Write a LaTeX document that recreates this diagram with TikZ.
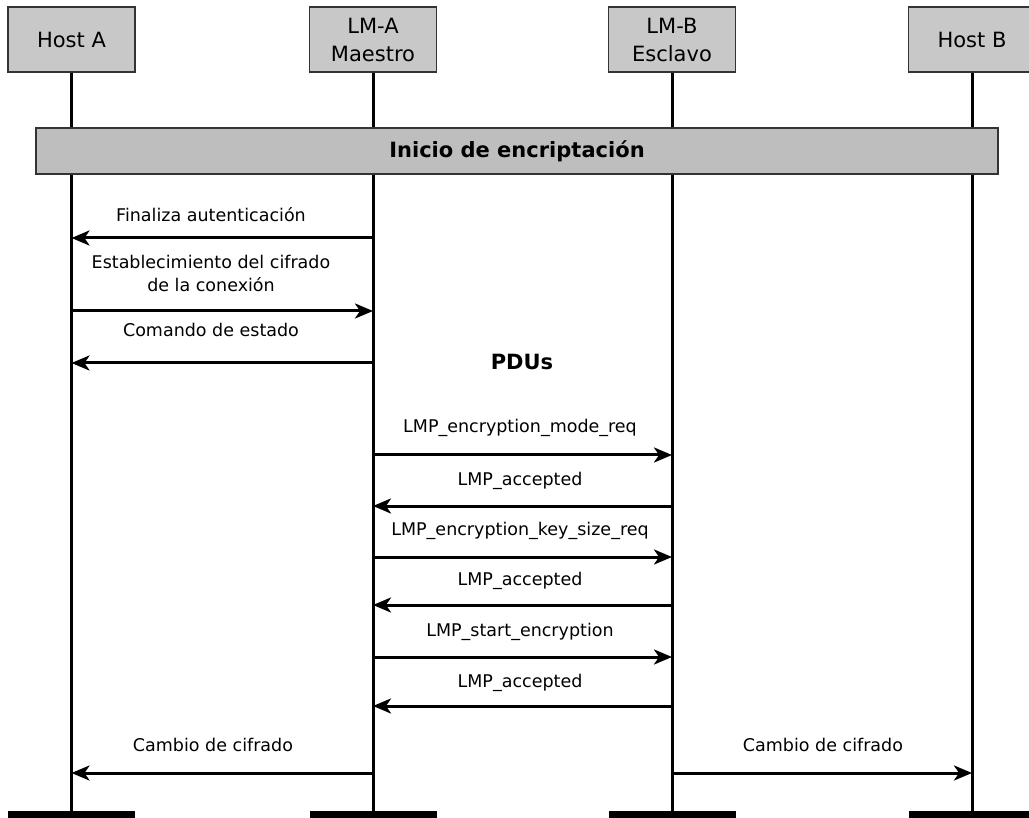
\documentclass[tikz,border=0pt]{standalone}
\usepackage{fontspec}
\setmainfont{DejaVu Sans}
\usetikzlibrary{arrows.meta}
\definecolor{boxgray}{HTML}{C8C8C8}
\definecolor{bargray}{HTML}{BEBEBE}
\definecolor{edge}{HTML}{333333}
\begin{document}
\begin{tikzpicture}[x=1pt,y=-1pt,
  actor/.style={draw=edge,line width=1.5pt,fill=boxgray,minimum width=127pt,
    minimum height=65pt,inner sep=0pt,align=center,
    font=\fontsize{21}{28}\selectfont},
  life/.style={line width=3pt},
  msg/.style={line width=3pt,-{Stealth[length=18pt,width=15pt,inset=5pt]}},
  lbl/.style={font=\fontsize{17.5}{23}\selectfont,align=center,inner sep=0pt},
  foot/.style={fill=black,minimum width=127pt,minimum height=14pt,inner sep=0pt,anchor=north}]
\useasboundingbox (0,0) rectangle (1029,818);

% participants
\node[actor] (hA) at (71.5,39.5) {Host A};
\node[actor] (lA) at (373,39.5) {LM-A\\Maestro};
\node[actor] (lB) at (672,39.5) {LM-B\\Esclavo};
\node[actor] (hB) at (972,39.5) {Host B};

% feet of the lifelines
\node[foot] (fA) at (71.5,811) {};
\node[foot] (fLA) at (373,811) {};
\node[foot] (fLB) at (672,811) {};
\node[foot] (fB) at (972,811) {};

% lifelines
\draw[life] (hA.south) -- (fA.north);
\draw[life] (lA.south) -- (fLA.north);
\draw[life] (lB.south) -- (fLB.north);
\draw[life] (hB.south) -- (fB.north);

% phase bar
\node[draw=edge,line width=1.5pt,fill=bargray,minimum width=962pt,minimum height=46pt,
  inner sep=0pt,font=\bfseries\fontsize{21}{25}\selectfont] (bar) at (517,151)
  {Inicio de encriptación};

% host A <-> LM-A
\node[lbl] (t1) at (211,215) {Finaliza autenticación};
\draw[msg] (lA |- 0,238) -- (hA |- 0,238);
\node[lbl] (t2) at (211,273) {Establecimiento del cifrado\\de la conexión};
\draw[msg] (hA |- 0,311) -- (lA |- 0,311);
\node[lbl] (t3) at (211,330) {Comando de estado};
\draw[msg] (lA |- 0,363) -- (hA |- 0,363);

% LMP exchange
\node[font=\bfseries\fontsize{21}{25}\selectfont,inner sep=0pt] (pdu) at (522,362) {PDUs};
\node[lbl] (p1) at (520,428) {LMP\_encryption\_mode\_req};
\draw[msg] (lA |- 0,455) -- (lB |- 0,455);
\node[lbl] (p2) at (520,481) {LMP\_accepted};
\draw[msg] (lB |- 0,506) -- (lA |- 0,506);
\node[lbl] (p3) at (520,531) {LMP\_encryption\_key\_size\_req};
\draw[msg] (lA |- 0,557) -- (lB |- 0,557);
\node[lbl] (p4) at (520,581) {LMP\_accepted};
\draw[msg] (lB |- 0,605) -- (lA |- 0,605);
\node[lbl] (p5) at (520,632) {LMP\_start\_encryption};
\draw[msg] (lA |- 0,657) -- (lB |- 0,657);
\node[lbl] (p6) at (520,683) {LMP\_accepted};
\draw[msg] (lB |- 0,706) -- (lA |- 0,706);

% cipher change on both sides
\node[lbl] (c1) at (213,745) {Cambio de cifrado};
\draw[msg] (lA |- 0,773) -- (hA |- 0,773);
\node[lbl] (c2) at (823,745) {Cambio de cifrado};
\draw[msg] (lB |- 0,773) -- (hB |- 0,773);
\end{tikzpicture}
\end{document}
